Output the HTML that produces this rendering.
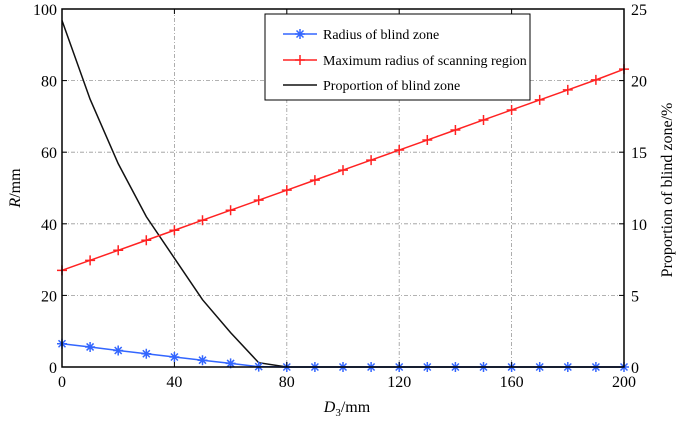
<!DOCTYPE html>
<html><head><meta charset="utf-8"><style>
body{margin:0;background:#fff;}
svg{display:block;font-family:"Liberation Serif",serif;}
</style></head><body>
<svg id="c" width="685" height="422"></svg>
<script>
const xVals=[0,10,20,30,40,50,60,70,80,90,100,110,120,130,140,150,160,170,180,190,200];
const blindRadius=[6.5,5.6,4.6,3.7,2.8,1.9,1.0,0.1,0,0,0,0,0,0,0,0,0,0,0,0,0];
const maxRadius=[27,29.8,32.6,35.4,38.2,41,43.8,46.6,49.4,52.2,55,57.8,60.6,63.4,66.2,69,71.8,74.6,77.4,80.2,83.2];
const proportion=[24.2,18.7,14.2,10.5,7.6,4.7,2.4,0.3,0,0,0,0,0,0,0,0,0,0,0,0,0];
const xTicks=[0,40,80,120,160,200];
const yTicks=[0,20,40,60,80,100];
const y2Ticks=[0,5,10,15,20,25];
const L=62,R=624,T=9,B=367;
const sx=v=>L+(R-L)*v/200, sy=v=>B-(B-T)*v/100, sy2=v=>B-(B-T)*v/25;
const svg=document.getElementById('c');const NS='http://www.w3.org/2000/svg';
function mk(t,a,txt){const e=document.createElementNS(NS,t);for(const k in a)e.setAttribute(k,a[k]);if(txt!==undefined)e.textContent=txt;svg.appendChild(e);return e;}
xTicks.forEach(v=>{if(v>0&&v<200){const g=mk('line',{x1:sx(v),x2:sx(v),y1:T,y2:B,stroke:'#999','stroke-dasharray':'4 2 1 2','stroke-width':0.8});

}});
yTicks.forEach(v=>{if(v>0&&v<100){const g=mk('line',{x1:L,x2:R,y1:sy(v),y2:sy(v),stroke:'#999','stroke-dasharray':'4 2 1 2','stroke-width':0.8});

}});
function line(ys,f,col,name){const p=ys.map((y,i)=>sx(xVals[i])+','+f(y)).join(' ');const e=mk('polyline',{points:p,fill:'none',stroke:col,'stroke-width':1.5});

}
line(proportion,sy2,'#111','proportion-line');
line(maxRadius,sy,'#f22','max-radius-line');
line(blindRadius,sy,'#36f','blind-radius-line');
maxRadius.forEach((v,i)=>{const x=sx(xVals[i]),y=sy(v);const m=mk('path',{d:`M${x-5} ${y}H${x+5}M${x} ${y-5}V${y+5}`,stroke:'#f22','stroke-width':1.5});

});
function star(x,y){return `M${x-5} ${y}H${x+5}M${x} ${y-5}V${y+5}M${x-3.5} ${y-3.5}L${x+3.5} ${y+3.5}M${x-3.5} ${y+3.5}L${x+3.5} ${y-3.5}`;}
blindRadius.forEach((v,i)=>{const m=mk('path',{d:star(sx(xVals[i]),sy(v)),stroke:'#36f','stroke-width':1.5});

});
const bx=mk('rect',{x:L,y:T,width:R-L,height:B-T,fill:'none',stroke:'#000','stroke-width':1.5});


xTicks.forEach(v=>{mk('line',{x1:sx(v),x2:sx(v),y1:B,y2:B-5,stroke:'#000'});mk('line',{x1:sx(v),x2:sx(v),y1:T,y2:T+5,stroke:'#000'});
const t=mk('text',{x:sx(v),y:B+20,'text-anchor':'middle','font-size':16},v);

});
yTicks.forEach(v=>{mk('line',{x1:L,x2:L+5,y1:sy(v),y2:sy(v),stroke:'#000'});
const t=mk('text',{x:L-5,y:sy(v)+6,'text-anchor':'end','font-size':16},v);

});
y2Ticks.forEach(v=>{mk('line',{x1:R,x2:R-5,y1:sy2(v),y2:sy2(v),stroke:'#000'});
const t=mk('text',{x:R+7,y:sy2(v)+6,'font-size':16},v);

});
</script>
<svg width="685" height="422" style="position:absolute;left:0;top:0;font-family:'Liberation Serif',serif">
<text x="347" y="412" text-anchor="middle" font-size="16"><tspan font-style="italic">D</tspan><tspan font-size="11" dy="4">3</tspan><tspan dy="-4">/mm</tspan></text>
<text transform="translate(20,188) rotate(-90)" text-anchor="middle" font-size="16"><tspan font-style="italic">R</tspan>/mm</text>
<text transform="translate(672,190) rotate(-90)" text-anchor="middle" font-size="16">Proportion of blind zone/%</text>
<g>
<rect x="265" y="14" width="265" height="86" fill="#fff" stroke="#000" stroke-width="1"/>
<g>
<line x1="283" x2="317" y1="34" y2="34" stroke="#36f" stroke-width="1.5"/>
<path d="M295 34H305M300 29V39M296.5 30.5L303.5 37.5M296.5 37.5L303.5 30.5" stroke="#36f" stroke-width="1.5"/>
<text x="323" y="39" font-size="14">Radius of blind zone</text></g>
<g>
<line x1="283" x2="317" y1="60" y2="60" stroke="#f22" stroke-width="1.5"/>
<path d="M295 60H305M300 55V65" stroke="#f22" stroke-width="1.5"/>
<text x="323" y="65" font-size="14">Maximum radius of scanning region</text></g>
<g>
<line x1="283" x2="317" y1="85" y2="85" stroke="#111" stroke-width="1.5"/>
<text x="323" y="90" font-size="14">Proportion of blind zone</text></g>
</g>
</svg>
</body></html>
